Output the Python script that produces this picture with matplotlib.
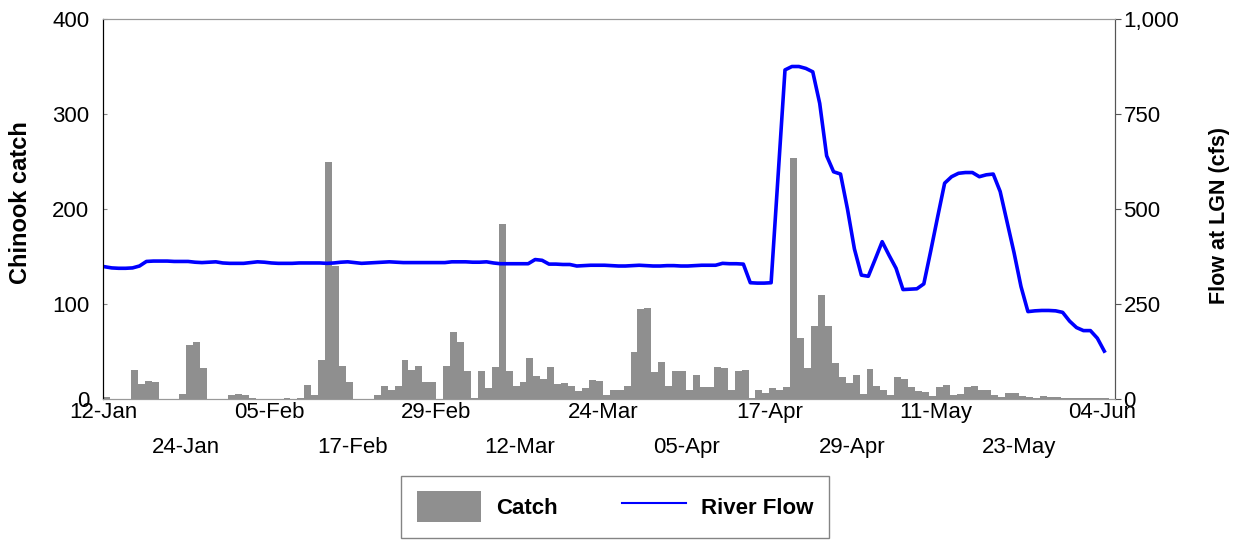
import matplotlib.pyplot as plt
import numpy as np
from matplotlib.patches import Patch
from matplotlib.lines import Line2D
from matplotlib.ticker import FuncFormatter

plt.rcParams["font.family"] = ["Liberation Sans", "DejaVu Sans"]

# daily values, 12-Jan (day 0) to 04-Jun (day 144)
catch = [2, 0, 0, 0, 31, 16, 19, 18, 0, 0,
         0, 5, 57, 60, 33, 0, 0, 0, 4, 5,
         4, 1, 0, 0, 0, 0, 1, 0, 1, 15,
         4, 41, 249, 140, 35, 18, 0, 0, 0, 4,
         14, 10, 14, 41, 31, 35, 18, 18, 0, 35,
         71, 60, 29, 1, 29, 12, 34, 184, 29, 14,
         18, 43, 24, 21, 34, 16, 17, 14, 8, 12,
         20, 19, 4, 9, 9, 14, 50, 95, 96, 28,
         39, 14, 29, 30, 9, 25, 13, 13, 34, 33,
         10, 30, 31, 1, 9, 6, 12, 9, 13, 254,
         64, 33, 77, 109, 77, 38, 23, 17, 25, 5,
         32, 14, 9, 4, 23, 21, 13, 8, 7, 3,
         13, 15, 4, 5, 13, 14, 9, 10, 4, 2,
         6, 6, 3, 2, 1, 3, 2, 2, 1, 1,
         1, 1, 1, 1, 1]

flow = [348, 345, 344, 344, 345, 350, 362, 363, 363, 363,
        362, 362, 362, 360, 359, 360, 361, 358, 357, 357,
        357, 359, 361, 360, 358, 357, 357, 357, 358, 358,
        358, 358, 357, 358, 360, 361, 359, 357, 358, 359,
        360, 361, 360, 359, 359, 359, 359, 359, 359, 359,
        361, 361, 361, 360, 360, 361, 358, 356, 356, 356,
        356, 356, 367, 365, 355, 355, 354, 354, 350, 351,
        352, 352, 352, 351, 350, 350, 351, 352, 351, 350,
        350, 351, 351, 350, 350, 351, 352, 352, 352, 357,
        356, 356, 355, 306, 305, 305, 306, 586, 866, 875,
        875, 870, 861, 778, 640, 598, 592, 500, 395, 326,
        323, 368, 414, 378, 344, 288, 289, 290, 303, 390,
        480, 568, 585, 594, 596, 596, 585, 590, 592, 546,
        465, 385, 296, 230, 232, 233, 233, 232, 228, 205,
        188, 180, 180, 160, 126]

tick_labels = ["12-Jan", "24-Jan", "05-Feb", "17-Feb", "29-Feb", "12-Mar", "24-Mar",
               "05-Apr", "17-Apr", "29-Apr", "11-May", "23-May", "04-Jun"]

days = np.arange(len(catch))
tick_days = np.arange(len(tick_labels)) * 12

fig = plt.figure(figsize=(12.34, 5.40), dpi=100)
ax = fig.add_axes([0.0835, 0.2611, 0.8201, 0.7037])
ax2 = ax.twinx()

ax.bar(days, catch, width=1.0, align="edge", color="#8f8f8f", linewidth=0)
ax2.plot(days + 0.25, flow, color="#0000ff", lw=2.6, solid_joinstyle="round")

ax.set_xlim(0, 145.8)
ax.set_ylim(0, 400)
ax2.set_ylim(0, 1000)
ax.set_yticks([0, 100, 200, 300, 400])
ax2.set_yticks([0, 250, 500, 750, 1000])
ax2.yaxis.set_major_formatter(FuncFormatter(lambda v, p: f"{int(v):,}"))

ax.set_xticks(tick_days[::2], tick_labels[::2])
ax.set_xticks(tick_days[1::2], tick_labels[1::2], minor=True)
ax.tick_params(axis="x", which="major", length=0, pad=2, labelsize=16)
ax.tick_params(axis="x", which="minor", length=0, pad=27, labelsize=16)
ax.tick_params(axis="y", direction="in", length=3, color="#888888", labelsize=16, pad=10)
ax2.tick_params(axis="y", direction="out", length=4, color="#555555", labelsize=16, pad=2)

for a in (ax, ax2):
    a.spines["top"].set_color("#999999")
    a.spines["bottom"].set_color("#999999")
    a.spines["left"].set_color("#000000")
    a.spines["right"].set_color("#555555")

ax.set_ylabel("Chinook catch", fontsize=17, fontweight="bold")
ax.yaxis.set_label_coords(-0.070, 0.518)
ax2.set_ylabel("Flow at LGN (cfs)", fontsize=15.5, fontweight="bold", rotation=90)
ax2.yaxis.set_label_coords(1.093, 0.484)

handles = [Patch(facecolor="#8f8f8f", edgecolor="none"),
           Line2D([0], [0], color="#0000ff", lw=1.5)]
leg = fig.legend(handles, ["Catch", "River Flow"], loc="center",
                 bbox_to_anchor=(0.4984, 0.0615), ncol=2, fancybox=False,
                 prop={"weight": "bold", "size": 16}, handlelength=2.9,
                 handleheight=1.75, handletextpad=0.65, columnspacing=2.9,
                 borderpad=0.7, borderaxespad=0)
leg.get_frame().set_edgecolor("#666666")
leg.get_frame().set_linewidth(1.0)

fig.savefig("out.png", dpi=100)
